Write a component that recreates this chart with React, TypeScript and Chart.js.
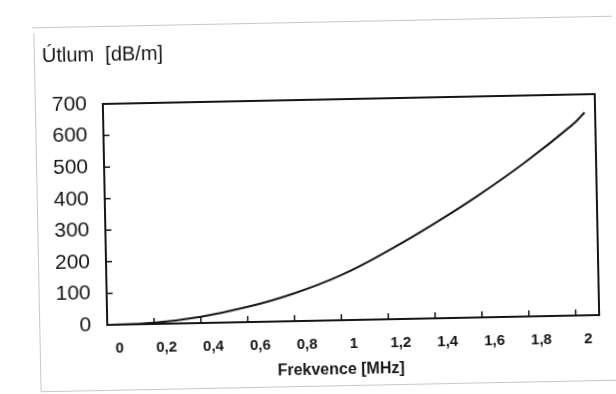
import React, { useEffect, useRef } from "react";
import { Chart, registerables } from "chart.js";

Chart.register(...registerables);

const FREQ_MHZ = [0, 0.2, 0.4, 0.6, 0.8, 1.0, 1.2, 1.4, 1.6, 1.8, 2.0, 2.055];
const ATTEN_DB_M = [0, 4, 20, 48, 88, 142, 215, 298, 389, 490, 603, 642];
const X_TICKS = [0, 0.2, 0.4, 0.6, 0.8, 1, 1.2, 1.4, 1.6, 1.8, 2];
const Y_TICKS = [0, 100, 200, 300, 400, 500, 600, 700];
const Y_TITLE = "Útlum  [dB/m]";
const X_TITLE = "Frekvence [MHz]";

const FONT = "'Liberation Sans', Arial, sans-serif";
const INK = "#161616";

const framePlugin = {
  id: "frame",
  beforeDraw(chart: any) {
    const ctx = chart.ctx;
    ctx.save();
    ctx.fillStyle = "#ffffff";
    ctx.fillRect(-50, -50, chart.width + 100, chart.height + 100);
    ctx.strokeStyle = "#c8c8c8";
    ctx.lineWidth = 1;
    ctx.beginPath();
    ctx.moveTo(36, 21.5);
    ctx.lineTo(660, 21.5);
    ctx.moveTo(37.5, 27);
    ctx.lineTo(37.5, 386);
    ctx.moveTo(37, 385.5);
    ctx.lineTo(660, 385.5);
    ctx.stroke();
    ctx.fillStyle = INK;
    ctx.font = `20px ${FONT}`;
    ctx.textBaseline = "alphabetic";
    ctx.textAlign = "left";
    ctx.fillText(Y_TITLE, 45, 56);
    ctx.font = `bold 16px ${FONT}`;
    ctx.textAlign = "center";
    ctx.fillText(X_TITLE, 338, 374);
    ctx.restore();
  },
  afterDatasetsDraw(chart: any) {
    const ctx = chart.ctx;
    const a = chart.chartArea;
    const xs = chart.scales.x;
    const ys = chart.scales.y;
    ctx.save();
    ctx.strokeStyle = INK;
    ctx.lineWidth = 2;
    ctx.strokeRect(a.left, a.top, a.right - a.left, a.bottom - a.top);
    ctx.lineWidth = 1.5;
    ctx.beginPath();
    X_TICKS.forEach((v) => {
      if (v === 0) return;
      const px = xs.getPixelForValue(v);
      ctx.moveTo(px, a.bottom);
      ctx.lineTo(px, a.bottom - 6);
    });
    Y_TICKS.forEach((v) => {
      if (v === 0 || v === 700) return;
      const py = ys.getPixelForValue(v);
      ctx.moveTo(a.left, py);
      ctx.lineTo(a.left + 6, py);
    });
    ctx.stroke();
    ctx.restore();
  },
};

export default function App() {
  const ref = useRef<HTMLCanvasElement>(null);
  useEffect(() => {
    if (!ref.current) return;
    const chart = new Chart(ref.current, {
      type: "line",
      data: {
        datasets: [
          {
            data: FREQ_MHZ.map((f, i) => ({ x: f, y: ATTEN_DB_M[i] })),
            borderColor: INK,
            borderWidth: 2,
            pointRadius: 0,
            tension: 0.4,
            fill: false,
          },
        ],
      },
      options: {
        animation: false,
        responsive: false,
        maintainAspectRatio: false,
        layout: { padding: { top: 99, right: 19, left: 0, bottom: 0 } },
        plugins: { legend: { display: false }, tooltip: { enabled: false } },
        scales: {
          x: {
            type: "linear",
            min: 0,
            max: 2.1,
            afterBuildTicks: (s: any) => {
              s.ticks = X_TICKS.map((v) => ({ value: v }));
            },
            afterFit: (s: any) => {
              s.height = 74;
            },
            grid: { display: false, drawTicks: false },
            border: { display: false },
            ticks: {
              padding: 15,
              labelOffset: 12,
              maxRotation: 0,
              autoSkip: false,
              color: INK,
              font: { family: FONT, size: 15, weight: "bold" },
              callback: (v: any) => String(v).replace(".", ","),
            },
          },
          y: {
            type: "linear",
            min: 0,
            max: 700,
            afterBuildTicks: (s: any) => {
              s.ticks = Y_TICKS.map((v) => ({ value: v }));
            },
            afterFit: (s: any) => {
              s.width = 105;
            },
            grid: { display: false, drawTicks: false },
            border: { display: false },
            ticks: {
              padding: 16,
              color: INK,
              font: { family: FONT, size: 21 },
            },
          },
        },
      },
      plugins: [framePlugin],
    } as any);
    return () => chart.destroy();
  }, []);
  return (
    <div
      style={{
        position: "absolute",
        left: 0,
        top: 0,
        width: 616,
        height: 394,
        overflow: "hidden",
        background: "#fff",
      }}
    >
      <canvas
        ref={ref}
        width={616}
        height={394}
        style={{ transform: "rotate(-1.15deg)", transformOrigin: "351px 209.5px" }}
      />
    </div>
  );
}
